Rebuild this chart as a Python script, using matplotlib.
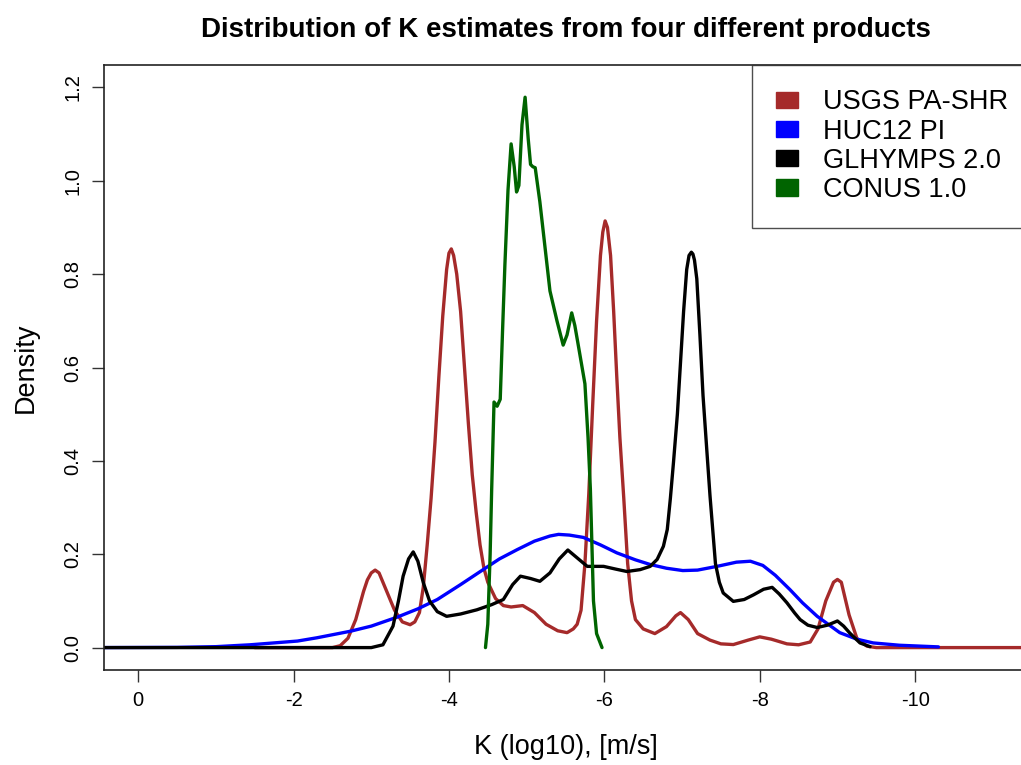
import matplotlib
matplotlib.use("Agg")
import matplotlib.pyplot as plt
from matplotlib.patches import Patch

plt.rcParams['font.family'] = ['Liberation Sans', 'DejaVu Sans']
plt.rcParams['axes.unicode_minus'] = False

title = "Distribution of K estimates from four different products"
xlabel = "K (log10), [m/s]"
ylabel = "Density"
labels = ["USGS PA-SHR", "HUC12 PI", "GLHYMPS 2.0", "CONUS 1.0"]
colors = ["#A52A2A", "#0000FF", "#000000", "#006400"]
xticks = [0, -2, -4, -6, -8, -10]
yticks = [0.0, 0.2, 0.4, 0.6, 0.8, 1.0, 1.2]

usgs_x = [-1.5, -2.5, -2.6, -2.7, -2.8, -2.9, -2.95, -3.0, -3.05, -3.1, -3.2, -3.3, -3.4, -3.5,
          -3.56, -3.62, -3.67, -3.72, -3.77, -3.82, -3.87, -3.92, -3.97, -4.0, -4.03, -4.06,
          -4.1, -4.15, -4.2, -4.25, -4.3, -4.35, -4.4, -4.45, -4.5,
          -4.6, -4.7, -4.8, -4.95, -5.1, -5.25, -5.4, -5.52, -5.6, -5.65, -5.7, -5.75, -5.8,
          -5.85, -5.9, -5.95, -5.98, -6.01, -6.04, -6.08, -6.12, -6.16, -6.2, -6.25, -6.3,
          -6.35, -6.4, -6.5, -6.65, -6.8, -6.92, -6.98, -7.08, -7.2,
          -7.36, -7.5, -7.66, -7.85, -8.0, -8.15, -8.35, -8.5, -8.65, -8.75, -8.85, -8.95,
          -9.0, -9.05, -9.15, -9.25, -9.38, -9.5, -11.6]
usgs_y = [0.0, 0.0, 0.004, 0.02, 0.06, 0.12, 0.145, 0.16, 0.166, 0.16, 0.12, 0.08, 0.055, 0.049,
          0.055, 0.075, 0.13, 0.22, 0.32, 0.44, 0.58, 0.71, 0.81, 0.845, 0.854, 0.84,
          0.80, 0.72, 0.60, 0.48, 0.37, 0.29, 0.22, 0.17, 0.14,
          0.105, 0.09, 0.087, 0.09, 0.075, 0.05, 0.036, 0.032, 0.04, 0.05, 0.08, 0.18, 0.33,
          0.52, 0.70, 0.84, 0.89, 0.914, 0.90, 0.84, 0.72, 0.58, 0.45, 0.32, 0.18,
          0.10, 0.06, 0.04, 0.03, 0.045, 0.068, 0.075, 0.06, 0.03,
          0.016, 0.008, 0.0065, 0.016, 0.023, 0.018, 0.008, 0.006, 0.012, 0.04, 0.10, 0.14,
          0.146, 0.14, 0.07, 0.02, 0.003, 0.0, 0.0]

huc_x = [0.6, -0.5, -1.0, -1.44, -2.05, -2.3, -2.73, -3.0, -3.33, -3.6, -3.85, -4.15, -4.44,
         -4.65, -4.88, -5.1, -5.3, -5.41, -5.55, -5.73, -5.95, -6.16, -6.4, -6.59, -6.8,
         -7.01, -7.2, -7.45, -7.7, -7.88, -8.04, -8.2, -8.39, -8.55, -8.74, -9.03, -9.25,
         -9.46, -9.8, -10.23, -10.3]
huc_y = [0.0, 0.0005, 0.002, 0.006, 0.014, 0.021, 0.035, 0.046, 0.065, 0.083, 0.103, 0.135,
         0.167, 0.19, 0.21, 0.228, 0.239, 0.2425, 0.241, 0.236, 0.22, 0.203, 0.188, 0.178,
         0.17, 0.165, 0.166, 0.174, 0.183, 0.185, 0.176, 0.155, 0.124, 0.096, 0.067, 0.032,
         0.018, 0.01, 0.005, 0.002, 0.0015]

glh_x = [0.6, -3.0, -3.15, -3.28, -3.35, -3.41, -3.48, -3.54, -3.6, -3.67, -3.75, -3.85,
         -3.97, -4.15, -4.36, -4.55, -4.7, -4.82, -4.92, -5.05, -5.17, -5.3, -5.42, -5.53,
         -5.63, -5.78, -5.99, -6.15, -6.29, -6.46, -6.59, -6.68, -6.76, -6.81, -6.85, -6.89,
         -6.94, -6.98, -7.02, -7.06, -7.09, -7.12, -7.14, -7.16, -7.19, -7.23, -7.27, -7.32,
         -7.36, -7.43, -7.48, -7.53, -7.66, -7.8, -7.92, -8.05, -8.16, -8.25, -8.35, -8.45,
         -8.52, -8.62, -8.74, -8.87, -9.0, -9.08, -9.16, -9.29, -9.42]
glh_y = [0.0, 0.0, 0.006, 0.046, 0.10, 0.153, 0.19, 0.205, 0.185, 0.139, 0.10, 0.077,
         0.067, 0.072, 0.081, 0.092, 0.103, 0.135, 0.153, 0.148, 0.142, 0.16, 0.19, 0.209,
         0.195, 0.174, 0.174, 0.168, 0.163, 0.167, 0.174, 0.189, 0.217, 0.253, 0.32, 0.397,
         0.50, 0.61, 0.72, 0.81, 0.84, 0.847, 0.843, 0.83, 0.79, 0.67, 0.54, 0.42,
         0.325, 0.18, 0.14, 0.117, 0.099, 0.103, 0.113, 0.125, 0.129, 0.115, 0.096, 0.074,
         0.06, 0.048, 0.043, 0.048, 0.057, 0.046, 0.031, 0.01, 0.002]

conus_x = [-4.47, -4.5, -4.53, -4.55, -4.58, -4.62, -4.66, -4.69, -4.72, -4.76, -4.8, -4.84,
           -4.87, -4.9, -4.94, -4.98, -5.02, -5.05, -5.08, -5.11, -5.17, -5.3, -5.39, -5.47,
           -5.52, -5.58, -5.62, -5.66, -5.75, -5.79, -5.82, -5.86, -5.9, -5.97]
conus_y = [0.0, 0.05, 0.2, 0.34, 0.526, 0.517, 0.532, 0.68, 0.82, 0.98, 1.079, 1.03,
           0.976, 0.99, 1.12, 1.179, 1.09, 1.035, 1.03, 1.028, 0.955, 0.764, 0.70, 0.648,
           0.67, 0.717, 0.69, 0.652, 0.565, 0.45, 0.34, 0.10, 0.03, 0.0]

series = [(usgs_x, usgs_y), (huc_x, huc_y), (glh_x, glh_y), (conus_x, conus_y)]

W, H = 1021, 765
fig = plt.figure(figsize=(W / 100, H / 100), dpi=100)
left, right, top, bottom = 104, 1027, 65, 670
ax = fig.add_axes([left / W, 1 - bottom / H, (right - left) / W, (bottom - top) / H])

for (xs, ys), c in zip(series, colors):
    ax.plot(xs, ys, color=c, lw=2.4, solid_joinstyle='round', solid_capstyle='round')

ax.set_xlim(0.44, -11.44)
ax.set_ylim(-0.048, 1.248)
ax.set_xticks(xticks)
ax.set_xticklabels([str(t) for t in xticks])
ax.set_yticks(yticks)
ax.set_yticklabels([f"{t:.1f}" for t in yticks], rotation=90, va='center')
ax.tick_params(axis='both', direction='out', length=8.6, width=1.0, labelsize=14.5,
               color='#333333')
ax.tick_params(axis='x', pad=6.5)
ax.tick_params(axis='y', pad=7)
for s in ax.spines.values():
    s.set_linewidth(1.2)
    s.set_color('#222222')

ax.set_xlabel(xlabel, fontsize=19.5, labelpad=17)
ax.set_ylabel(ylabel, fontsize=19.5, labelpad=18)
ax.set_title(title, fontsize=20, fontweight='bold', pad=20)

handles = [Patch(facecolor=c, edgecolor=c) for c in colors]
leg = ax.legend(handles, labels, loc='upper left',
                bbox_to_anchor=(752 / W, 1 - 65 / H), bbox_transform=fig.transFigure,
                fontsize=19.5, frameon=True, fancybox=False, borderpad=0.9,
                handlelength=0.78, handleheight=0.55, handletextpad=0.93,
                labelspacing=0.12, borderaxespad=0)
leg.get_frame().set_edgecolor('#222222')
leg.get_frame().set_linewidth(1.0)

fig.savefig("out.png", dpi=100)
